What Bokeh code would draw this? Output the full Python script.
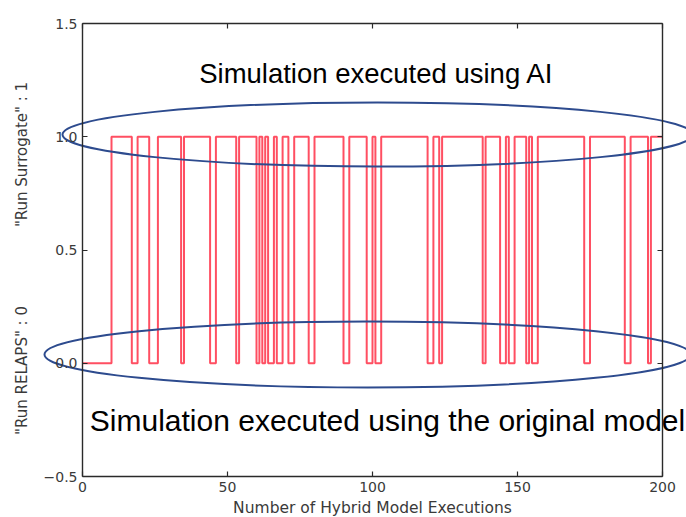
import math
from bokeh.plotting import figure
from bokeh.models import LinearAxis, FixedTicker, Range1d, Label
from bokeh.embed import file_html
from bokeh.resources import INLINE

# ---- data ----
# execution index where the selected model changes, and the mode from that index on
switch_x = [0, 10, 17, 19, 23, 26, 34, 35, 44, 46, 53, 54, 60, 61, 62, 63, 64, 66,
            67, 69, 71, 73, 78, 80, 90, 92, 98, 100, 101, 103, 119, 121, 123, 124,
            138, 139, 144, 146, 147, 149, 153, 154, 155, 157, 173, 175, 187, 189,
            195, 196, 200]
run_mode = [0, 1, 0, 1, 0, 1, 0, 1, 0, 1, 0, 1, 0, 1, 0, 1, 0, 1,
            0, 1, 0, 1, 0, 1, 0, 1, 0, 1, 0, 1, 0, 1, 0, 1,
            0, 1, 0, 1, 0, 1, 0, 1, 0, 1, 0, 1, 0, 1,
            0, 1, 1]
x_ticks = [0, 50, 100, 150, 200]
x_tick_labels = ["0", "50", "100", "150", "200"]
y_ticks = [-0.5, 0.0, 0.5, 1.0, 1.5]
y_tick_labels = ["\u22120.5", "0.0", "0.5", "1.0", "1.5"]
x_label = "Number of Hybrid Model Executions"
y_label_top = '"Run Surrogate" : 1'
y_label_bottom = '"Run RELAPS" : 0'
note_top = "Simulation executed using AI"
note_bottom = "Simulation executed using the original model"

# ---- layout (pixel geometry of the frame) ----
W, H = 686, 517
X0_PX, X1_PX = 82, 662
YT_PX, YB_PX = 23, 476
XMIN, XMAX = 0, 200
YMIN, YMAX = -0.5, 1.5
sx = (X1_PX - X0_PX) / (XMAX - XMIN)
sy = (YB_PX - YT_PX) / (YMAX - YMIN)


def dx(px):
    return XMIN + (px - X0_PX) / sx


def dy(py):
    return YMAX - (py - YT_PX) / sy


p = figure(width=W, height=H,
           x_range=Range1d(dx(0), dx(W)), y_range=Range1d(dy(H), dy(0)),
           output_backend="svg", toolbar_location=None,
           x_axis_location=None, y_axis_location=None, min_border=0)
p.outline_line_color = None
p.background_fill_color = "white"
p.border_fill_color = "white"
p.xgrid.grid_line_color = None
p.ygrid.grid_line_color = None

AX_COLOR = "#2a2a2a"
LBL_COLOR = "#3a3a3a"
TICK_FONT = "DejaVu Sans"


def make_axis(ticks, labels, bounds, loc, show):
    ax = LinearAxis(ticker=FixedTicker(ticks=ticks), bounds=bounds, fixed_location=loc)
    ax.major_tick_in = 5
    ax.major_tick_out = 0
    ax.minor_tick_in = 0
    ax.minor_tick_out = 0
    ax.axis_line_color = AX_COLOR
    ax.axis_line_width = 1.4
    ax.major_tick_line_color = AX_COLOR
    ax.major_tick_line_width = 1.2
    if show:
        ax.major_label_overrides = {t: l for t, l in zip(ticks, labels)}
        ax.major_label_text_font = TICK_FONT
        ax.major_label_text_font_size = "14px"
        ax.major_label_text_color = LBL_COLOR
        ax.major_label_standoff = 5
    else:
        ax.major_label_text_font_size = "0px"
        ax.major_label_text_alpha = 0
    return ax


p.add_layout(make_axis(x_ticks, x_tick_labels, (XMIN, XMAX), YMIN, True), "below")
p.add_layout(make_axis(x_ticks, x_tick_labels, (XMIN, XMAX), YMAX, False), "above")
p.add_layout(make_axis(y_ticks, y_tick_labels, (YMIN, YMAX), XMIN, True), "left")
p.add_layout(make_axis(y_ticks, y_tick_labels, (YMIN, YMAX), XMAX, False), "right")

# the step signal
p.step(switch_x, run_mode, mode="after", line_color="#ff4f62", line_width=2)

# hand-drawn highlight ellipses
ell_x = [dx(377), dx(367)]
ell_y = [dy(134), dy(354)]
ell_w = [630 / sx, 646 / sx]
ell_h = [64 / sy, 66 / sy]
p.ellipse(x=ell_x, y=ell_y, width=ell_w, height=ell_h,
          fill_color=None, line_color="#2d4b8e", line_width=2)

# annotation texts
p.add_layout(Label(x=dx(376), y=dy(73), text=note_top, text_font="Liberation Sans",
                   text_font_size="27.5px", text_color="black",
                   text_align="center", text_baseline="middle"))
p.add_layout(Label(x=dx(387), y=dy(420), text=note_bottom, text_font="Liberation Sans",
                   text_font_size="30px", text_color="black",
                   text_align="center", text_baseline="middle"))

# axis labels
p.add_layout(Label(x=dx(372), y=dy(507), text=x_label, text_font=TICK_FONT,
                   text_font_size="15.5px", text_color=LBL_COLOR,
                   text_align="center", text_baseline="middle"))
p.add_layout(Label(x=dx(21), y=dy(154), text=y_label_top, text_font=TICK_FONT,
                   text_font_size="15px", text_color=LBL_COLOR, angle=math.pi / 2,
                   text_align="center", text_baseline="middle"))
p.add_layout(Label(x=dx(21), y=dy(370), text=y_label_bottom, text_font=TICK_FONT,
                   text_font_size="15px", text_color=LBL_COLOR, angle=math.pi / 2,
                   text_align="center", text_baseline="middle"))

open("out.html", "w").write(file_html(p, INLINE))
